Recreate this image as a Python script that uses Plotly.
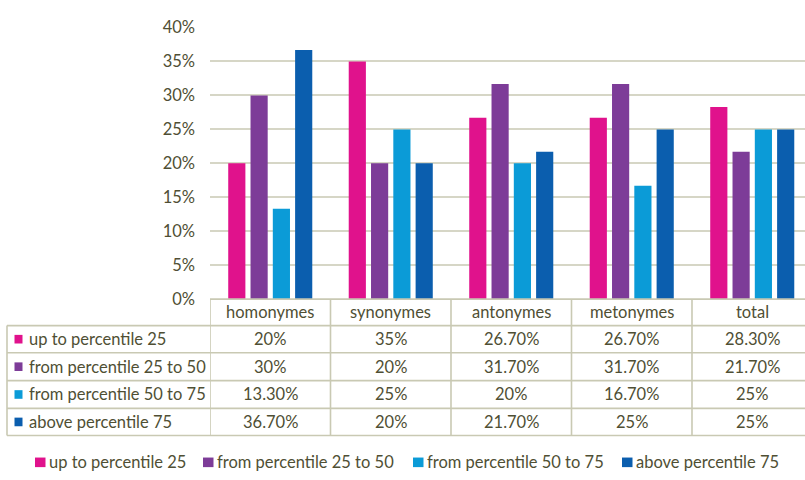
import plotly.graph_objects as go

# ---- data -------------------------------------------------------------
categories = ["homonymes", "synonymes", "antonymes", "metonymes", "total"]
series_names = [
    "up to percentile 25",
    "from percentile 25 to 50",
    "from percentile 50 to 75",
    "above percentile 75",
]
up_to_25 = [0.20, 0.35, 0.267, 0.267, 0.283]
from_25_to_50 = [0.30, 0.20, 0.317, 0.317, 0.217]
from_50_to_75 = [0.133, 0.25, 0.20, 0.167, 0.25]
above_75 = [0.367, 0.20, 0.217, 0.25, 0.25]
y_ticks = [0.0, 0.05, 0.10, 0.15, 0.20, 0.25, 0.30, 0.35, 0.40]

series_values = [up_to_25, from_25_to_50, from_50_to_75, above_75]
colors = ["#E0128C", "#7D3C98", "#0B9BD7", "#0B5EAE"]

# ---- layout constants (pixels) -----------------------------------------
W, H = 805, 480
FONT = "Lato"
FS = 16.5
TEXT = "#4f4f34"
GRID = "#d6d6c6"
BORDER = "#c9c9b3"

plot_left = 210
y_zero, y_top = 301.7, 18.3
table_left = 7
row_lines = [301.7, 329.3, 357.7, 386.7, 415.7, 444.0]
legend_x = [35, 203, 413, 622]
legend_y = 472


def px(x):
    return x / W


def py(y):
    return 1 - y / H


def pct(v):
    p = round(v * 100, 1)
    return f"{p:.0f}%" if p == int(p) else f"{p:.2f}%"


fig = go.Figure()
for name, vals, col in zip(series_names, series_values, colors):
    fig.add_trace(go.Bar(name=name, x=categories, y=vals, marker_color=col,
                         marker_line_width=0, showlegend=False))

shapes = []
annotations = []

# table: horizontal rules
for i, yl in enumerate(row_lines):
    x0 = px(plot_left) if i == 0 else px(table_left)
    shapes.append(dict(type="line", xref="paper", yref="paper",
                       x0=x0, x1=1, y0=py(yl), y1=py(yl),
                       line=dict(color=BORDER, width=1.6)))
# table: vertical rules
shapes.append(dict(type="line", xref="paper", yref="paper",
                   x0=px(table_left), x1=px(table_left),
                   y0=py(row_lines[1]), y1=py(row_lines[-1]),
                   line=dict(color=BORDER, width=1.6)))
for i in range(len(categories) + 1):
    shapes.append(dict(type="line", xref="x", yref="paper",
                       x0=i - 0.5, x1=i - 0.5,
                       y0=py(row_lines[0]), y1=py(row_lines[-1]),
                       line=dict(color=BORDER, width=1.6)))

# table header: category names
hdr_y = (row_lines[0] + row_lines[1]) / 2
for i, c in enumerate(categories):
    annotations.append(dict(x=i, y=py(hdr_y), xref="x", yref="paper",
                            text=c, showarrow=False, xanchor="center",
                            yanchor="middle",
                            font=dict(family=FONT, size=FS, color=TEXT)))

# table body: series rows
for r, (name, vals, col) in enumerate(zip(series_names, series_values, colors)):
    yc = (row_lines[r + 1] + row_lines[r + 2]) / 2
    shapes.append(dict(type="rect", xref="paper", yref="paper",
                       x0=px(14.5), x1=px(22.5), y0=py(yc - 4.5), y1=py(yc + 4.5),
                       fillcolor=col, line=dict(width=0)))
    annotations.append(dict(x=px(27), y=py(yc), xref="paper", yref="paper",
                            text=name, showarrow=False, xanchor="left",
                            yanchor="middle",
                            font=dict(family=FONT, size=FS, color=TEXT)))
    for i, v in enumerate(vals):
        annotations.append(dict(x=i, y=py(yc), xref="x", yref="paper",
                                text=pct(v), showarrow=False, xanchor="center",
                                yanchor="middle",
                                font=dict(family=FONT, size=FS, color=TEXT)))

# legend along the bottom
for name, col, lx in zip(series_names, colors, legend_x):
    shapes.append(dict(type="rect", xref="paper", yref="paper",
                       x0=px(lx), x1=px(lx + 10.5),
                       y0=py(legend_y - 5), y1=py(legend_y + 5),
                       fillcolor=col, line=dict(width=0)))
    annotations.append(dict(x=px(lx + 12), y=py(legend_y), xref="paper",
                            yref="paper", text=name, showarrow=False,
                            xanchor="left", yanchor="middle",
                            font=dict(family=FONT, size=FS, color=TEXT)))

cat_w = 120.5
x_span = (W - plot_left) / cat_w

fig.update_layout(
    width=W, height=H,
    margin=dict(l=0, r=0, t=0, b=0),
    paper_bgcolor="white", plot_bgcolor="white",
    barmode="group", bargap=0.26, bargroupgap=0.23,
    shapes=shapes, annotations=annotations,
    font=dict(family=FONT, color=TEXT),
    xaxis=dict(domain=[px(plot_left), 1], range=[-0.5, -0.5 + x_span],
               showticklabels=False, showgrid=False, zeroline=False,
               showline=False, ticks=""),
    yaxis=dict(domain=[py(y_zero), py(y_top)], range=[0, 0.4],
               tickvals=y_ticks, tickformat=".0%",
               showgrid=True, gridcolor=GRID, gridwidth=1.6,
               zeroline=False, showline=False, ticks="",
               ticklabelstandoff=14,
               tickfont=dict(family=FONT, size=FS, color=TEXT)),
)

fig.write_html("out.html")
